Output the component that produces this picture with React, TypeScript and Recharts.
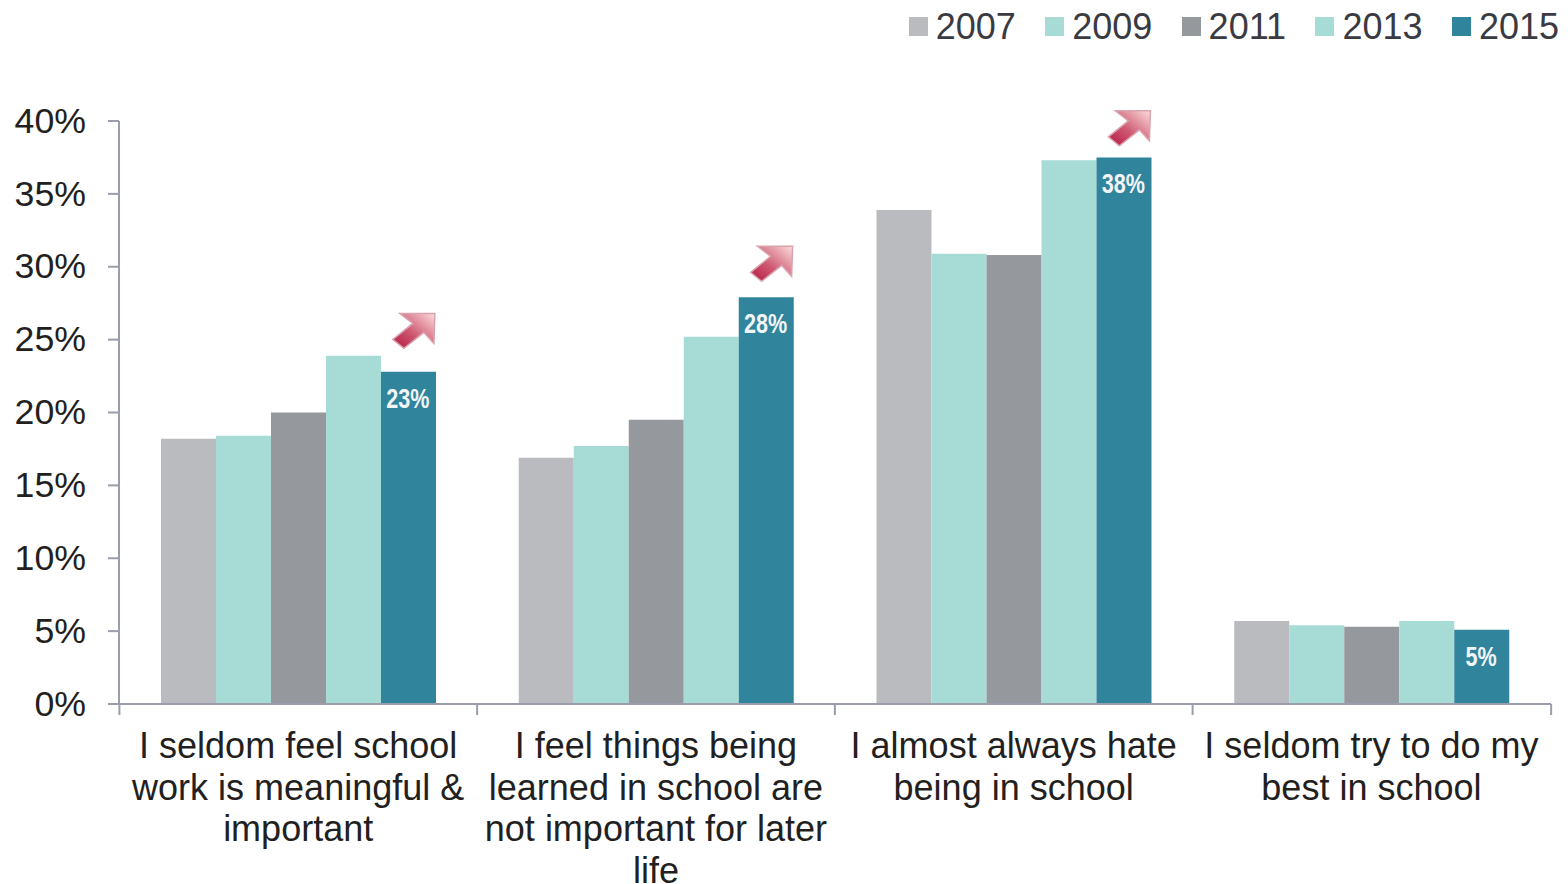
import { BarChart, Bar, XAxis, YAxis, Legend, LabelList, ReferenceDot } from "recharts";

const categoryNames = ["meaningful", "notImportant", "hate", "seldomTry"];
const categoryLines = [
  ["I seldom feel school", "work is meaningful &", "important"],
  ["I feel things being", "learned in school are", "not important for later", "life"],
  ["I almost always hate", "being in school"],
  ["I seldom try to do my", "best in school"],
];

const values2007 = [18.2, 16.9, 33.9, 5.7];
const values2009 = [18.4, 17.7, 30.9, 5.4];
const values2011 = [20.0, 19.5, 30.8, 5.3];
const values2013 = [23.9, 25.2, 37.3, 5.7];
const values2015 = [22.8, 27.9, 37.5, 5.1];
const labels2015 = ["23%", "28%", "38%", "5%"];

// where the tips of the rising arrows sit, in axis units
const arrowTips = [26.8, 31.4, 40.7];

const yTicks = [0, 5, 10, 15, 20, 25, 30, 35, 40];

const seriesKeys = ["2007", "2009", "2011", "2013", "2015"];
const seriesColors = ["#babbbf", "#a6dcd5", "#95989c", "#a6dcd5", "#30849c"];

const rows = categoryNames.map((name, i) => ({
  name,
  "2007": values2007[i],
  "2009": values2009[i],
  "2011": values2011[i],
  "2013": values2013[i],
  "2015": values2015[i],
}));

const WIDTH = 1568;
const HEIGHT = 884;
const AXIS_LEFT = 119;
const AXIS_RIGHT = 1551;
const BAND = (AXIS_RIGHT - AXIS_LEFT) / categoryNames.length;
const AXIS_COLOR = "#9a9dab";
const TEXT_COLOR = "#231f20";
const FONT = '"Liberation Sans", Arial, sans-serif';

function CategoryTick({ x, y, index }: any) {
  const lines = categoryLines[index] ?? [];
  const left = x - BAND / 2;
  return (
    <g>
      <line x1={left - 0.5} x2={left - 0.5} y1={y - 8} y2={y + 3} stroke={AXIS_COLOR} strokeWidth={2} />
      {index === categoryNames.length - 1 && (
        <line x1={left + BAND} x2={left + BAND} y1={y - 8} y2={y + 3} stroke={AXIS_COLOR} strokeWidth={2} />
      )}
      <text textAnchor="middle" fontFamily={FONT} fontSize={36} fill={TEXT_COLOR}>
        {lines.map((line: string, i: number) => (
          <tspan key={i} x={x - 0.7} y={y + 46 + i * 41.5}>
            {line}
          </tspan>
        ))}
      </text>
    </g>
  );
}

// no narrow font is installed, so the bold face is squeezed sideways
function BarValueLabel({ x, y, width, index }: any) {
  return (
    <text
      transform={`translate(${x + width / 2 - 0.7},${y + 36}) scale(0.8,1)`}
      textAnchor="middle"
      fontFamily={FONT}
      fontWeight="bold"
      fontSize={27}
      fill="#f2f5f7"
    >
      {labels2015[index]}
    </text>
  );
}

function RiseArrow({ cx, cy }: any) {
  const tipX = cx + 136;
  const pts = [
    [0, 0],
    [-1, 30],
    [-11, 19],
    [-31, 35],
    [-42, 26],
    [-22, 10],
    [-35, 0],
  ];
  return (
    <polygon
      points={pts.map(([dx, dy]) => `${tipX + dx},${cy + dy}`).join(" ")}
      fill="url(#riseArrow)"
      stroke="#d8a3ae"
      strokeWidth={1.5}
    />
  );
}

function YearLegend() {
  return (
    <div
      style={{
        display: "flex",
        justifyContent: "flex-end",
        alignItems: "center",
        height: 50,
        paddingTop: 3,
        paddingRight: 9,
        boxSizing: "border-box",
        fontFamily: FONT,
        fontSize: 36,
        color: "#3a3a42",
      }}
    >
      {seriesKeys.map((key, i) => (
        <div key={key} style={{ display: "flex", alignItems: "center", marginLeft: i === 0 ? 0 : 29.4 }}>
          <span style={{ width: 19, height: 19, background: seriesColors[i], marginRight: 8 }} />
          <span>{key}</span>
        </div>
      ))}
    </div>
  );
}

export default function App() {
  return (
    <div style={{ position: "absolute", left: 0, top: 0, width: WIDTH, height: HEIGHT, background: "#fff" }}>
      <BarChart
        width={WIDTH}
        height={HEIGHT}
        data={rows}
        margin={{ top: 71, right: WIDTH - AXIS_RIGHT, bottom: 0, left: 0 }}
        barCategoryGap={41}
        barGap={0}
      >
        <defs>
          <linearGradient id="riseArrow" x1="0" y1="1" x2="1" y2="0">
            <stop offset="0%" stopColor="#b5173f" />
            <stop offset="45%" stopColor="#cf5a72" />
            <stop offset="100%" stopColor="#fbdedd" />
          </linearGradient>
        </defs>
        <Legend
          verticalAlign="top"
          height={50}
          content={<YearLegend />}
          wrapperStyle={{ left: 0, top: 0, width: WIDTH }}
        />
        <XAxis
          dataKey="name"
          height={180}
          interval={0}
          padding={{ left: 1, right: 0 }}
          tick={<CategoryTick />}
          tickLine={false}
          axisLine={{ stroke: AXIS_COLOR, strokeWidth: 2 }}
        />
        <YAxis
          width={AXIS_LEFT}
          domain={[0, 40]}
          ticks={yTicks}
          interval={0}
          tickFormatter={(v: number) => `${v}%`}
          tick={{ fill: TEXT_COLOR, fontSize: 35.7, fontFamily: FONT, dy: -1 }}
          tickSize={11}
          tickMargin={22}
          tickLine={{ stroke: AXIS_COLOR, strokeWidth: 2 }}
          axisLine={{ stroke: AXIS_COLOR, strokeWidth: 2 }}
        />
        {seriesKeys.map((key, i) => (
          <Bar key={key} dataKey={key} fill={seriesColors[i]} isAnimationActive={false}>
            {key === "2015" && <LabelList content={<BarValueLabel />} />}
          </Bar>
        ))}
        {arrowTips.map((tip, i) => (
          <ReferenceDot
            key={i}
            x={categoryNames[i]}
            y={tip}
            ifOverflow="visible"
            shape={<RiseArrow />}
          />
        ))}
      </BarChart>
    </div>
  );
}
